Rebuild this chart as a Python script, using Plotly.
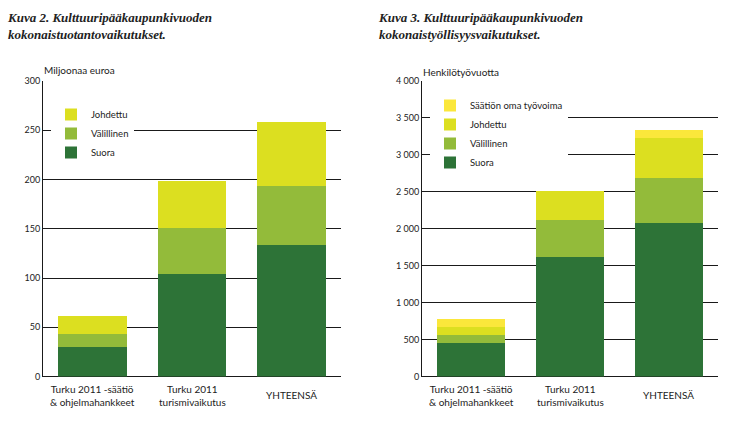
import plotly.graph_objects as go

W, H = 740, 424

categories = ["Turku 2011 -säätiö<br>& ohjelmahankkeet", "Turku 2011<br>turismivaikutus", "YHTEENSÄ"]
cat_keys = ["A", "B", "C"]

# Left chart: Miljoonaa euroa
left_suora = [30, 104, 134]
left_valillinen = [13, 47, 59]
left_johdettu = [18, 47, 65]

# Right chart: Henkilötyövuotta
right_suora = [450, 1620, 2080]
right_valillinen = [115, 495, 610]
right_johdettu = [110, 390, 540]
right_saatio = [110, 0, 105]

left_ticks = [0, 50, 100, 150, 200, 250, 300]
left_ticktext = ["0", "50", "100", "150", "200", "250", "300"]
right_ticks = [0, 500, 1000, 1500, 2000, 2500, 3000, 3500, 4000]
right_ticktext = ["0", "500", "1 000", "1 500", "2 000", "2 500", "3 000", "3 500", "4 000"]

C_SUORA = "#2d7337"
C_VAL = "#93bb3a"
C_JOH = "#dcdf20"
C_SAA = "#fbe73b"

FONT = "Lato"
TXT = "#222222"

fig = go.Figure()

def add(x_ax, y_ax, vals, name, color, legend):
    fig.add_trace(go.Bar(x=cat_keys, y=vals, name=name, marker=dict(color=color, line=dict(width=0)),
                         xaxis=x_ax, yaxis=y_ax, legend=legend, hoverinfo="y+name"))

add("x", "y", left_suora, "Suora", C_SUORA, "legend")
add("x", "y", left_valillinen, "Välillinen", C_VAL, "legend")
add("x", "y", left_johdettu, "Johdettu", C_JOH, "legend")

add("x2", "y2", right_suora, "Suora", C_SUORA, "legend2")
add("x2", "y2", right_valillinen, "Välillinen", C_VAL, "legend2")
add("x2", "y2", right_johdettu, "Johdettu", C_JOH, "legend2")
add("x2", "y2", right_saatio, "Säätiön oma työvoima", C_SAA, "legend2")

ydom = [(H - 376.5) / H, (H - 81) / H]

xcommon = dict(showticklabels=False, showgrid=False, zeroline=False, showline=False, ticks="",
               fixedrange=True, categoryorder="array", categoryarray=cat_keys, automargin=False)
ycommon = dict(showgrid=True, gridcolor="#1a1a1a", gridwidth=1, zeroline=True, zerolinecolor="#1a1a1a",
               zerolinewidth=1, showline=True, linecolor="#1a1a1a", linewidth=1, ticks="",
               tickfont=dict(family=FONT, size=9, color=TXT), tickmode="array", automargin=False,
               fixedrange=True)

legcommon = dict(bgcolor="white", borderwidth=0, font=dict(family=FONT, size=9.5, color=TXT),
                 traceorder="reversed", xanchor="left", yanchor="top", itemclick=False)

fig.update_layout(
    width=W, height=H,
    margin=dict(l=0, r=0, t=0, b=0, autoexpand=False),
    paper_bgcolor="white", plot_bgcolor="white",
    barmode="stack", bargap=0.31,
    showlegend=True,
    xaxis=dict(domain=[43 / W, 341 / W], anchor="y", range=[-0.5, 2.5], **xcommon),
    yaxis=dict(domain=ydom, anchor="x", range=[0, 300], tickvals=left_ticks, ticktext=left_ticktext, **ycommon),
    xaxis2=dict(domain=[422 / W, 718 / W], anchor="y2", range=[-0.5, 2.5], **xcommon),
    yaxis2=dict(domain=ydom, anchor="x2", range=[0, 4000], tickvals=right_ticks, ticktext=right_ticktext, **ycommon),
    legend=dict(x=51 / W, y=(H - 100) / H, **legcommon),
    legend2=dict(x=430 / W, y=(H - 91) / H, **legcommon),
)

annots = []
annots.append(dict(text="<b><i>Kuva 2. Kulttuuripääkaupunkivuoden<br>kokonaistuotantovaikutukset.</i></b>",
                   x=5 / W, y=(H - 8) / H, xref="paper", yref="paper", xanchor="left", yanchor="top",
                   align="left", showarrow=False, font=dict(family="Liberation Serif", size=13, color=TXT)))
annots.append(dict(text="<b><i>Kuva 3. Kulttuuripääkaupunkivuoden<br>kokonaistyöllisyysvaikutukset.</i></b>",
                   x=376 / W, y=(H - 8) / H, xref="paper", yref="paper", xanchor="left", yanchor="top",
                   align="left", showarrow=False, font=dict(family="Liberation Serif", size=13, color=TXT)))
annots.append(dict(text="Miljoonaa euroa", x=42 / W, y=(H - 70) / H, xref="paper", yref="paper",
                   xanchor="left", yanchor="middle", showarrow=False, font=dict(family=FONT, size=10, color=TXT)))
annots.append(dict(text="Henkilötyövuotta", x=421 / W, y=(H - 72) / H, xref="paper", yref="paper",
                   xanchor="left", yanchor="middle", showarrow=False, font=dict(family=FONT, size=10, color=TXT)))
for xr in ("x", "x2"):
    for k, lab in zip(cat_keys, categories):
        annots.append(dict(text=lab, x=k, y=(H - 395) / H, xref=xr, yref="paper", xanchor="center",
                           yanchor="middle", align="center", showarrow=False,
                           font=dict(family=FONT, size=10, color=TXT)))
fig.update_layout(annotations=annots)

fig.write_html("out.html", config={"displayModeBar": False},
               post_script="document.body.style.margin='0';document.body.style.padding='0';")
